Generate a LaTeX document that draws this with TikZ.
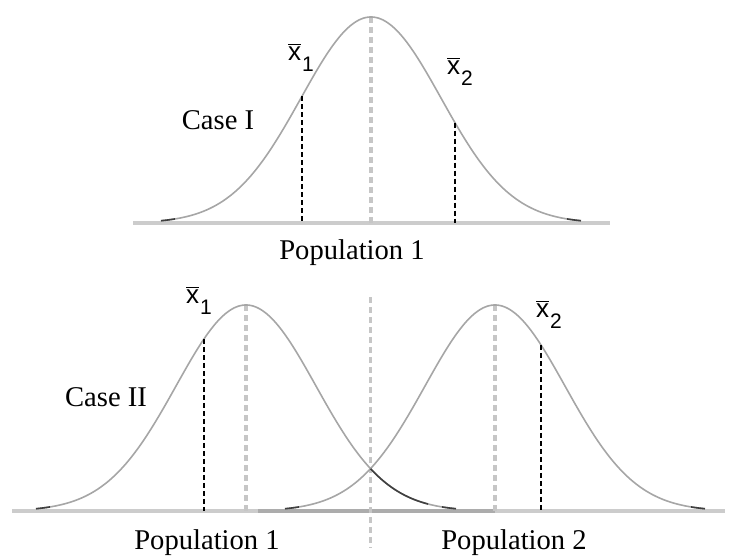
\documentclass[tikz,border=0pt]{standalone}
\usepackage{fontspec}
\setmainfont{Liberation Serif}
\setsansfont{Liberation Sans}
\newcommand{\xbarlab}[1]{$\overline{\mbox{x}}$\kern0.5pt\raisebox{-0.75ex}{\fontsize{10.5}{12}\selectfont#1}}
\tikzset{
  bell/.style={gray!70, line width=0.8pt, smooth, samples=90},
  belltail/.style={black!75, line width=0.8pt, smooth, samples=30},
  axisline/.style={gray!40, line width=2pt},
  meanline/.style={gray!45, line width=2pt, dash pattern=on 3pt off 2pt},
  sampleline/.style={black, line width=0.8pt, dash pattern=on 2.5pt off 1.5pt},
  caselabel/.style={font=\fontsize{14.3}{17}\selectfont, inner sep=0pt},
  xbarlabel/.style={font=\sffamily\fontsize{13}{15}\selectfont, inner sep=0pt},
}
\begin{document}
\begin{tikzpicture}[line join=round, x=0.5pt, y=-0.5pt]
  \def\sig{70}
  \def\hgt{206}
  \def\yA{223}
  \def\muA{371}
  \def\yB{511}
  \def\muL{246}
  \def\muR{495}
  \def\muM{370.5}
  \useasboundingbox (0,0) rectangle (734,558);
  % Case I: one population
  \coordinate (A0) at (133,\yA);
  \coordinate (A1) at (610,\yA);
  \draw[axisline] (A0) -- (A1);
  \coordinate (PA) at (\muA,{\yA-\hgt});
  \coordinate (PAb) at (\muA,\yA);
  \draw[meanline] (PA) -- (PAb);
  \draw[bell, domain=-3:3] plot ({\muA+\sig*\x},{\yA-\hgt*exp(-(\x)*(\x)/2)});
  \draw[belltail, domain=-3:-2.8] plot ({\muA+\sig*\x},{\yA-\hgt*exp(-(\x)*(\x)/2)});
  \draw[belltail, domain=2.8:3] plot ({\muA+\sig*\x},{\yA-\hgt*exp(-(\x)*(\x)/2)});
  % Case II: two populations
  \coordinate (B0) at (12,\yB);
  \coordinate (B1) at (725,\yB);
  \draw[axisline] (B0) -- (B1);
  \coordinate (D0) at (258,\yB);
  \coordinate (D1) at (\muR,\yB);
  \draw[gray!65, line width=2pt] (D0) -- (D1);
  \coordinate (C0) at (\muM,297);
  \coordinate (C1) at (\muM,548);
  \draw[meanline, line width=1.6pt] (C0) -- (C1);
  \foreach \nm/\mu in {PL/\muL, PR/\muR} {
    \coordinate (\nm) at (\mu,{\yB-\hgt});
    \coordinate (\nm b) at (\mu,\yB);
    \draw[meanline] (\nm) -- (\nm b);
    \draw[bell, domain=-3:3] plot ({\mu+\sig*\x},{\yB-\hgt*exp(-(\x)*(\x)/2)});
    \draw[belltail, domain=-3:-2.8] plot ({\mu+\sig*\x},{\yB-\hgt*exp(-(\x)*(\x)/2)});
    \draw[belltail, domain=2.8:3] plot ({\mu+\sig*\x},{\yB-\hgt*exp(-(\x)*(\x)/2)});
  }
  % dark tail of population 1 past the crossing
  \draw[belltail, domain=1.78:2.6] plot ({\muL+\sig*\x},{\yB-\hgt*exp(-(\x)*(\x)/2)});
  % sample means on the curves
  \foreach \nm/\xx/\mu/\base in {S1/302/\muA/\yA, S2/455/\muA/\yA, T1/204/\muL/\yB, T2/541/\muR/\yB} {
    \pgfmathsetmacro{\dd}{(\xx-\mu)/\sig}
    \coordinate (\nm) at (\xx,{\base-\hgt*exp(-\dd*\dd/2)});
    \coordinate (\nm b) at (\xx,\base);
    \draw[sampleline] (\nm) -- (\nm b);
  }
  % labels
  \node[xbarlabel] (xS1) at (301,57) {\xbarlab{1}};
  \node[xbarlabel] (xS2) at (460,71) {\xbarlab{2}};
  \node[xbarlabel] (xT1) at (199,300) {\xbarlab{1}};
  \node[xbarlabel] (xT2) at (549,314) {\xbarlab{2}};
  \node[caselabel] (caseI) at (218,120) {Case I};
  \node[caselabel] (caseII) at (106,397) {Case II};
  \node[caselabel] (popA) at (352,253) {Population 1};
  \node[caselabel] (popB1) at (207,543) {Population 1};
  \node[caselabel] (popB2) at (514,543) {Population 2};
\end{tikzpicture}
\end{document}
